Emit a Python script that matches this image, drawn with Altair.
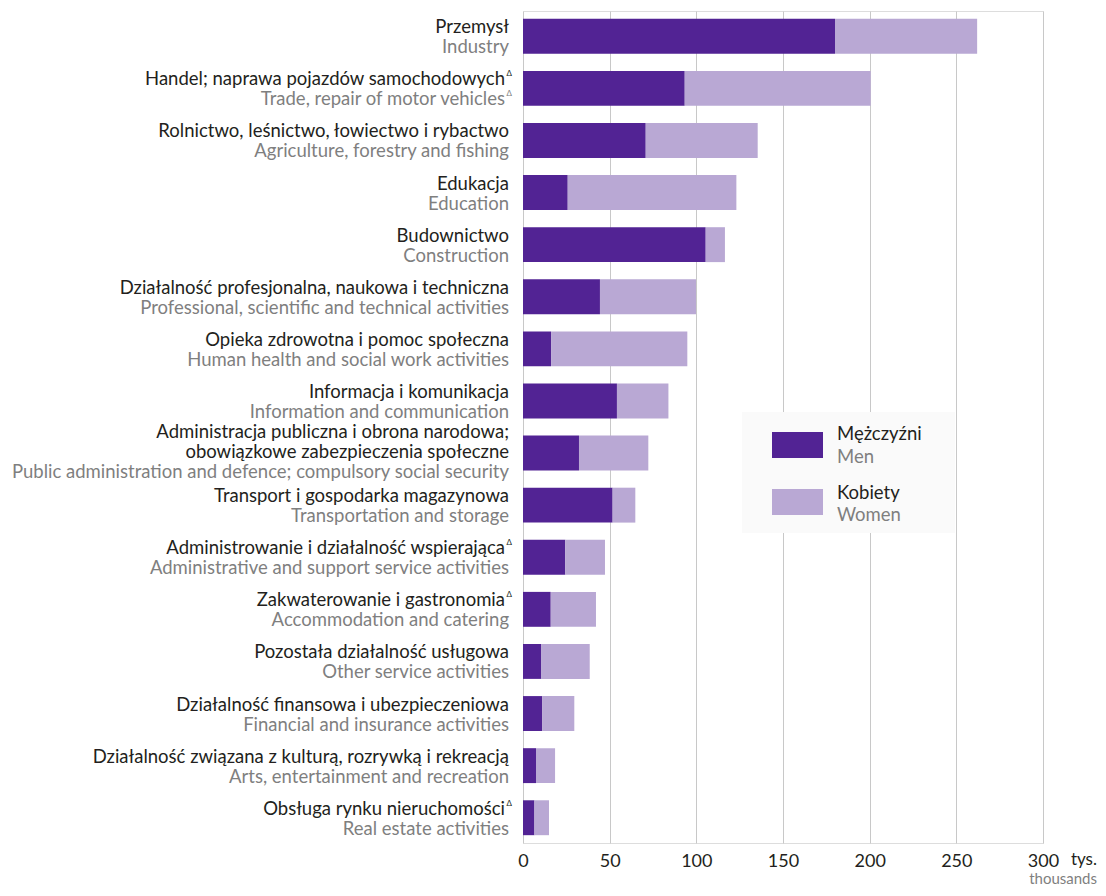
import altair as alt
import pandas as pd

# ---- data (thousands) ----
pl_lines = [
    ["Przemysł"],
    ["Handel; naprawa pojazdów samochodowych"],
    ["Rolnictwo, leśnictwo, łowiectwo i rybactwo"],
    ["Edukacja"],
    ["Budownictwo"],
    ["Działalność profesjonalna, naukowa i techniczna"],
    ["Opieka zdrowotna i pomoc społeczna"],
    ["Informacja i komunikacja"],
    ["Administracja publiczna i obrona narodowa;", "obowiązkowe zabezpieczenia społeczne"],
    ["Transport i gospodarka magazynowa"],
    ["Administrowanie i działalność wspierająca"],
    ["Zakwaterowanie i gastronomia"],
    ["Pozostała działalność usługowa"],
    ["Działalność finansowa i ubezpieczeniowa"],
    ["Działalność związana z kulturą, rozrywką i rekreacją"],
    ["Obsługa rynku nieruchomości"],
]
en_labels = [
    "Industry",
    "Trade, repair of motor vehicles",
    "Agriculture, forestry and fishing",
    "Education",
    "Construction",
    "Professional, scientific and technical activities",
    "Human health and social work activities",
    "Information and communication",
    "Public administration and defence; compulsory social security",
    "Transportation and storage",
    "Administrative and support service activities",
    "Accommodation and catering",
    "Other service activities",
    "Financial and insurance activities",
    "Arts, entertainment and recreation",
    "Real estate activities",
]
pl_delta = [False, True, False, False, False, False, False, False,
            False, False, True, True, False, False, False, True]
en_delta = [False, True, False, False, False, False, False, False,
            False, False, False, False, False, False, False, False]
men = [180.0, 93.3, 70.8, 25.8, 105.4, 44.4, 16.2, 54.2,
       32.3, 51.7, 24.4, 16.0, 10.4, 11.0, 7.5, 6.6]
women = [82.0, 107.3, 64.6, 97.3, 11.1, 55.4, 78.6, 29.7,
         40.0, 13.1, 22.9, 26.1, 28.1, 18.6, 11.0, 8.4]
series_pl = ["Mężczyźni", "Kobiety"]
series_en = ["Men", "Women"]
series_colors = ["#522394", "#b9a8d4"]
x_ticks = [0, 50, 100, 150, 200, 250, 300]
unit_pl = "tys."
unit_en = "thousands"

FONT = "Lato"
DARK = "#231f20"
GREY = "#7f7f7f"
FS = 18.5

keys = [" ".join(l) for l in pl_lines]

# ---- tables ----
bar_rows = []
for k, m, w in zip(keys, men, women):
    bar_rows.append({"key": k, "series": series_pl[0], "value": m, "order": 0})
    bar_rows.append({"key": k, "series": series_pl[1], "value": w, "order": 1})
bar_df = pd.DataFrame(bar_rows)

HALF = 17.45  # offsets are measured from the band start
lab_rows = []
for k, pls, en, pd_, ed_ in zip(keys, pl_lines, en_labels, pl_delta, en_delta):
    n = len(pls) + 1
    offs = [-3, 17] if n == 2 else [-15, 5, 25]
    offs = [o + HALF for o in offs]
    for i, t in enumerate(pls):
        lab_rows.append({"key": k, "text": t, "kind": "pl", "off": offs[i],
                         "delta": pd_ and i == len(pls) - 1})
    lab_rows.append({"key": k, "text": en, "kind": "en", "off": offs[-1], "delta": ed_})
lab_df = pd.DataFrame(lab_rows)

yscale = alt.Scale(paddingInner=0.33, paddingOuter=0.15)
Y = alt.Y("key:N", sort=keys, scale=yscale, axis=None, title=None)

bars = alt.Chart(bar_df).mark_bar().encode(
    x=alt.X("value:Q", stack="zero",
            scale=alt.Scale(domain=[0, 300], nice=False),
            axis=alt.Axis(values=x_ticks, grid=True, gridColor="#c8c8c8", gridWidth=1,
                          domain=False, ticks=False, tickSize=0, labelFontSize=18,
                          labelFlush=False, labelOverlap=False,
                          labelColor=DARK, labelFont=FONT, labelPadding=9, title=None)),
    y=Y,
    color=alt.Color("series:N", scale=alt.Scale(domain=series_pl, range=series_colors), legend=None),
    order=alt.Order("order:Q"),
)


def text_layer(df, x, color, dy=0, fs=FS, txt=None):
    enc = dict(y=Y, yOffset=alt.YOffset("off:Q", scale=None), x=alt.value(x))
    enc["text"] = alt.Text("text:N") if txt is None else alt.value(txt)
    return alt.Chart(df).mark_text(align="right", baseline="alphabetic", fontSize=fs,
                                   font=FONT, color=color, dy=dy).encode(**enc)


pl_plain = lab_df[(lab_df.kind == "pl") & (~lab_df.delta)]
en_plain = lab_df[(lab_df.kind == "en") & (~lab_df.delta)]
pl_d = lab_df[(lab_df.kind == "pl") & (lab_df.delta)]
en_d = lab_df[(lab_df.kind == "en") & (lab_df.delta)]

label_layers = [
    text_layer(pl_plain, -14, DARK),
    text_layer(en_plain, -14, GREY),
    text_layer(pl_d, -18, DARK),
    text_layer(en_d, -18, GREY),
    text_layer(pl_d, -11, DARK, dy=-9, fs=8, txt="Δ"),
    text_layer(en_d, -11, GREY, dy=-9, fs=8, txt="Δ"),
]

one = pd.DataFrame({"a": [0]})

legend_bg = alt.Chart(one).mark_rect(color="#fafafa").encode(
    x=alt.value(219), x2=alt.value(432), y=alt.value(401), y2=alt.value(522))
sw_y = [(421, 447), (478, 504)]
txt_y = [(429, 452), (488, 510)]
legend_layers = [legend_bg]
for i in range(2):
    legend_layers.append(alt.Chart(one).mark_rect(color=series_colors[i]).encode(
        x=alt.value(249), x2=alt.value(300), y=alt.value(sw_y[i][0]), y2=alt.value(sw_y[i][1])))
    legend_layers.append(alt.Chart(one).mark_text(
        align="left", baseline="alphabetic", fontSize=FS, font=FONT, color=DARK).encode(
        x=alt.value(314), y=alt.value(txt_y[i][0]), text=alt.value(series_pl[i])))
    legend_layers.append(alt.Chart(one).mark_text(
        align="left", baseline="alphabetic", fontSize=FS, font=FONT, color=GREY).encode(
        x=alt.value(314), y=alt.value(txt_y[i][1]), text=alt.value(series_en[i])))

unit_layers = [
    alt.Chart(one).mark_text(align="right", baseline="alphabetic", fontSize=17, font=FONT,
                             color=DARK).encode(x=alt.value(574), y=alt.value(854),
                                                text=alt.value(unit_pl)),
    alt.Chart(one).mark_text(align="right", baseline="alphabetic", fontSize=15, font=FONT,
                             color=GREY).encode(x=alt.value(574), y=alt.value(873),
                                                text=alt.value(unit_en)),
]

chart = alt.layer(bars, *label_layers, *legend_layers, *unit_layers).properties(
    width=520, height=832,
    autosize=alt.AutoSizeParams(type="none"),
    padding={"left": 515, "top": 3, "right": 55, "bottom": 45},
).configure_view(stroke=None).configure(font=FONT)

chart.save("out.html", embed_options={"renderer": "svg", "actions": False})
